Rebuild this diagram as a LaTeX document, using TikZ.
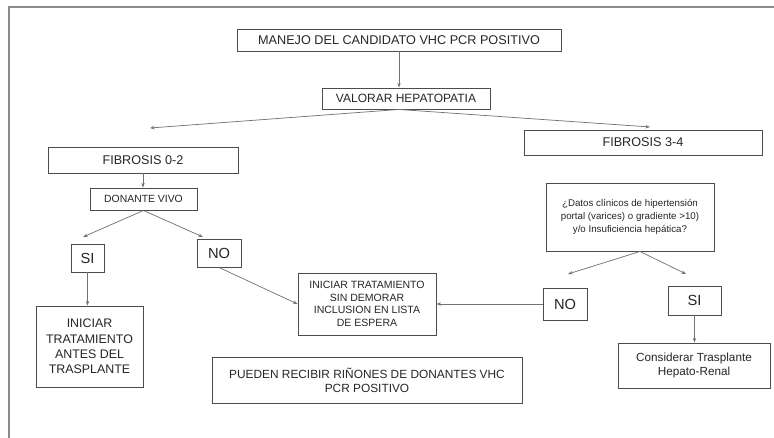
\documentclass[tikz,border=0pt]{standalone}
\usepackage{fontspec}
\setmainfont{Liberation Sans}
\usetikzlibrary{arrows.meta}

\begin{document}
\begin{tikzpicture}[x=0.75pt, y=-0.75pt, >={Stealth[length=3.5pt, width=2.6pt]},
    caja/.style 2 args={draw=black!70, line width=0.7pt, fill=white, inner sep=0pt,
      text=black!85, align=center, minimum width=#1*0.75pt, minimum height=#2*0.75pt},
    flecha/.style={->, draw=black!55, line width=0.55pt}]
  \useasboundingbox (0,0) rectangle (774,438);
  % ---------------- frame ----------------
  \draw[black!45, line width=1.3pt] (9,438) -- (9,7) -- (774,7);
  % ---------------- top of the tree ----------------
  \node[caja={324}{22}, font=\fontsize{9.5}{11}\selectfont] (manejo) at (399,40)
    {MANEJO DEL CANDIDATO VHC PCR POSITIVO};
  \node[caja={168}{21}, font=\fontsize{9}{11}\selectfont] (valorar) at (406,98.5)
    {VALORAR HEPATOPATIA};
  \node[caja={190}{26}, font=\fontsize{9.5}{11}\selectfont] (fibA) at (143,160) {FIBROSIS 0-2};
  \node[caja={238}{25}, font=\fontsize{9.5}{11}\selectfont] (fibB) at (643,142.5) {FIBROSIS 3-4};
  \coordinate (finA) at (150,128);
  \coordinate (finB) at (650,127);
  \draw[flecha] (manejo) -- (manejo |- valorar.north);
  \draw[flecha] (valorar.south -| manejo) -- (finA);
  \draw[flecha] (valorar.south -| manejo) -- (finB);
  % ---------------- fibrosis 0-2 ----------------
  \node[caja={107}{22}, font=\fontsize{7.8}{9}\selectfont] (donante) at (143.5,199) {DONANTE VIVO};
  \node[caja={33}{28}, font=\fontsize{11}{13}\selectfont] (siA) at (87.5,258) {SI};
  \node[caja={44}{28}, font=\fontsize{11}{13}\selectfont] (noA) at (219,253) {NO};
  \node[caja={107}{81}, font=\fontsize{9.3}{11.6}\selectfont] (antes) at (89.5,346.5)
    {INICIAR\\TRATAMIENTO\\ANTES DEL\\TRASPLANTE};
  \node[caja={138}{62}, font=\fontsize{7.9}{9.4}\selectfont] (sindemora) at (367,304)
    {INICIAR TRATAMIENTO\\SIN DEMORAR\\INCLUSION EN LISTA\\DE ESPERA};
  \node[caja={310}{46}, font=\fontsize{8.9}{10.5}\selectfont] (pueden) at (367,380)
    {PUEDEN RECIBIR RIÑONES DE DONANTES VHC\\PCR POSITIVO};
  \draw[flecha] (fibA) -- (fibA |- donante.north);
  \foreach \fin/\px in {finSiA/83, finNoA/203}
  {
    \coordinate (\fin) at (\px,237);
    \draw[flecha] (donante.south) -- (\fin);
  }
  \draw[flecha] (siA) -- (siA |- antes.north);
  \draw[flecha] (noA.south) -- (sindemora.west);
  % ---------------- fibrosis 3-4 ----------------
  \node[caja={168}{68}, font=\fontsize{7.3}{9.8}\selectfont] (pregunta) at (630,217)
    {¿Datos clínicos de hipertensión\\portal (varices) o gradiente >10)\\y/o Insuficiencia hepática?};
  \node[caja={44}{32}, font=\fontsize{11}{13}\selectfont] (noB) at (565,304) {NO};
  \node[caja={53}{29}, font=\fontsize{11}{13}\selectfont] (siB) at (694.5,300.5) {SI};
  \node[caja={152}{45}, font=\fontsize{8.8}{10.5}\selectfont] (considerar) at (694,365.5)
    {Considerar Trasplante\\Hepato-Renal};
  \foreach \fin/\px in {finNoB/568, finSiB/686}
  {
    \coordinate (\fin) at (\px,274);
    \draw[flecha] (pregunta.south -| 640,0) -- (\fin);
  }
  \draw[flecha] (noB.west) -- (sindemora.east |- noB.west);
  \draw[flecha] (siB) -- (siB |- considerar.north);
\end{tikzpicture}
\end{document}
